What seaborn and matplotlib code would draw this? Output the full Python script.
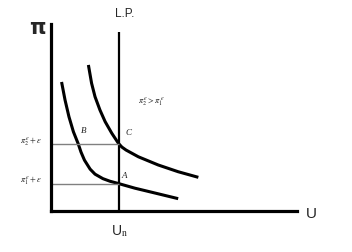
import matplotlib
matplotlib.use("Agg")
import matplotlib.pyplot as plt
import seaborn as sns
import pandas as pd

# Short-run Phillips curves (U, pi) in schematic units
U_low = [0.43, 0.57, 0.73, 0.91, 1.11, 1.22, 1.36, 1.59, 1.79, 2.11, 2.40, 2.74, 3.41, 4.23, 5.17]
pi_low = [6.90, 5.94, 5.04, 4.24, 3.58, 3.15, 2.72, 2.24, 1.97, 1.73, 1.59, 1.47, 1.22, 0.96, 0.66]
U_high = [1.52, 1.65, 1.79, 1.99, 2.20, 2.47, 2.74, 2.88, 3.05, 3.55, 4.36, 5.17, 5.99]
pi_high = [7.81, 6.83, 6.11, 5.40, 4.78, 4.16, 3.62, 3.42, 3.26, 2.90, 2.46, 2.10, 1.80]

U_n = 2.76
lp_top = 9.57
pi_level_high = 3.60   # pi_2^e + eps
pi_level_low = 1.47    # pi_1^e + eps

point_names = ["B", "C", "A"]
point_U = [1.34, 3.17, 2.97]
point_pi = [4.28, 4.17, 1.87]

df = pd.concat([
    pd.DataFrame({"U": U_low, "pi": pi_low, "curve": "low"}),
    pd.DataFrame({"U": U_high, "pi": pi_high, "curve": "high"}),
])

sns.set_style("white")
plt.rcParams["mathtext.fontset"] = "stix"

fig = plt.figure(figsize=(3.52, 2.52), dpi=100)
ax = fig.add_axes([51 / 352, 41 / 252, 246 / 352, 187 / 252])

sns.lineplot(data=df, x="U", y="pi", units="curve", estimator=None, sort=False,
             color="black", linewidth=2.2, ax=ax, legend=False,
             solid_joinstyle="round", solid_capstyle="butt")

ax.plot([U_n, U_n], [0, lp_top], color="black", linewidth=1.6, solid_capstyle="butt")
ax.hlines([pi_level_high, pi_level_low], 0, U_n, color="#808080", linewidth=1.0)

for n, u, p in zip(point_names, point_U, point_pi):
    ax.text(u, p, n, fontsize=6.5, style="italic", family="Liberation Serif",
            ha="center", va="center", color="#222222")

ax.text(-0.37, 3.69, r"$\pi_2^{\,e}+\varepsilon$", fontsize=6, ha="right", va="center", color="#222222")
ax.text(-0.37, 1.60, r"$\pi_1^{\,e}+\varepsilon$", fontsize=6, ha="right", va="center", color="#222222")
ax.text(4.06, 5.83, r"$\pi_2^{\,e}>\pi_1^{\,e}$", fontsize=6, ha="center", va="center", color="#222222")

ax.text(3.0, 10.53, "L.P.", fontsize=8.5, ha="center", va="center", family="Liberation Sans")
ax.text(-0.57, 9.8, "π", fontsize=15, fontweight="bold", ha="center", va="center",
        family="DejaVu Sans")
ax.text(10.6, -0.16, "U", fontsize=11, ha="center", va="center", family="Liberation Sans")
ax.text(2.8, -1.07, r"U$_{\mathrm{n}}$", fontsize=10, ha="center", va="center",
        family="Liberation Sans")

ax.set_xlim(0, 10)
ax.set_ylim(0, 10)
ax.set_xticks([])
ax.set_yticks([])
ax.set_xlabel("")
ax.set_ylabel("")
for s in ["top", "right"]:
    ax.spines[s].set_visible(False)
for s in ["left", "bottom"]:
    ax.spines[s].set_color("black")
    ax.spines[s].set_linewidth(2.3)

fig.savefig("out.png", dpi=100, facecolor="white")
